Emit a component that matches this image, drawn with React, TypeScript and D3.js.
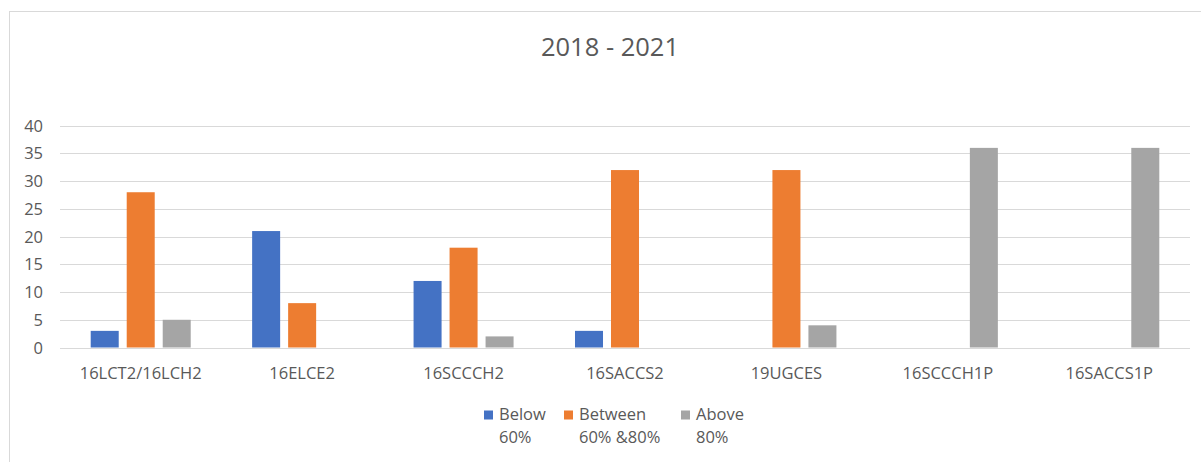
import React from "react";
import * as d3 from "d3";

const categories = ["16LCT2/16LCH2", "16ELCE2", "16SCCCH2", "16SACCS2", "19UGCES", "16SCCCH1P", "16SACCS1P"];
const seriesNames = ["Below 60%", "Between 60% &80%", "Above 80%"];
const legendLines = [["Below", "60%"], ["Between", "60% &80%"], ["Above", "80%"]];
const below = [3, 21, 12, 3, 0, 0, 0];
const between = [28, 8, 18, 32, 32, 0, 0];
const above = [5, 0, 2, 0, 4, 36, 36];
const yTicks = [0, 5, 10, 15, 20, 25, 30, 35, 40];
const colors = ["#4472C4", "#ED7D31", "#A5A5A5"];

const W = 1201, H = 462;
const FONT = "'Open Sans', 'Noto Sans', sans-serif";
const TEXT = "#595959";

export default function App() {
  const series = [below, between, above];
  const x0 = d3.scaleBand().domain(categories).range([60, 1190]).paddingInner(0).paddingOuter(0);
  const x1 = d3.scaleBand().domain(seriesNames).range([0, x0.bandwidth()]).paddingInner(0.222).paddingOuter(0.853);
  const y = d3.scaleLinear().domain([0, 40]).range([347.5, 125.7]);
  const legendX = [484, 564, 681];

  return (
    <div style={{ position: "absolute", left: 0, top: 0 }}>
      <svg width={W} height={H} style={{ display: "block", background: "#fff" }}>
        <rect x={9.5} y={11.5} width={1200} height={470} fill="#fff" stroke="#D9D9D9" strokeWidth={1} />
        <text x={610} y={56} textAnchor="middle" fontFamily={FONT} fontSize={25.5} fill={TEXT}>2018 - 2021</text>
        {yTicks.map((t) => (
          <g key={t}>
            <line x1={60} x2={1190} y1={Math.round(y(t)) + 0.5} y2={Math.round(y(t)) + 0.5} stroke="#D9D9D9" strokeWidth={1} />
            <text x={43} y={y(t) + 6} textAnchor="end" fontFamily={FONT} fontSize={16.5} fill={TEXT}>{t}</text>
          </g>
        ))}
        {categories.map((c, i) => (
          <g key={c}>
            {series.map((s, j) => s[i] > 0 ? (
              <rect key={j} x={(x0(c) as number) + (x1(seriesNames[j]) as number)} y={y(s[i])}
                width={x1.bandwidth()} height={y(0) - y(s[i])} fill={colors[j]} />
            ) : null)}
            <text x={(x0(c) as number) + x0.bandwidth() / 2} y={379} textAnchor="middle" fontFamily={FONT} fontSize={16.5} fill={TEXT}>{c}</text>
          </g>
        ))}
        {legendLines.map((lines, j) => (
          <g key={j}>
            <rect x={legendX[j]} y={410.5} width={9} height={9} fill={colors[j]} />
            <text x={legendX[j] + 15} y={420} fontFamily={FONT} fontSize={16.5} fill={TEXT}>{lines[0]}</text>
            <text x={legendX[j] + 15} y={443} fontFamily={FONT} fontSize={16.5} fill={TEXT}>{lines[1]}</text>
          </g>
        ))}
      </svg>
    </div>
  );
}
